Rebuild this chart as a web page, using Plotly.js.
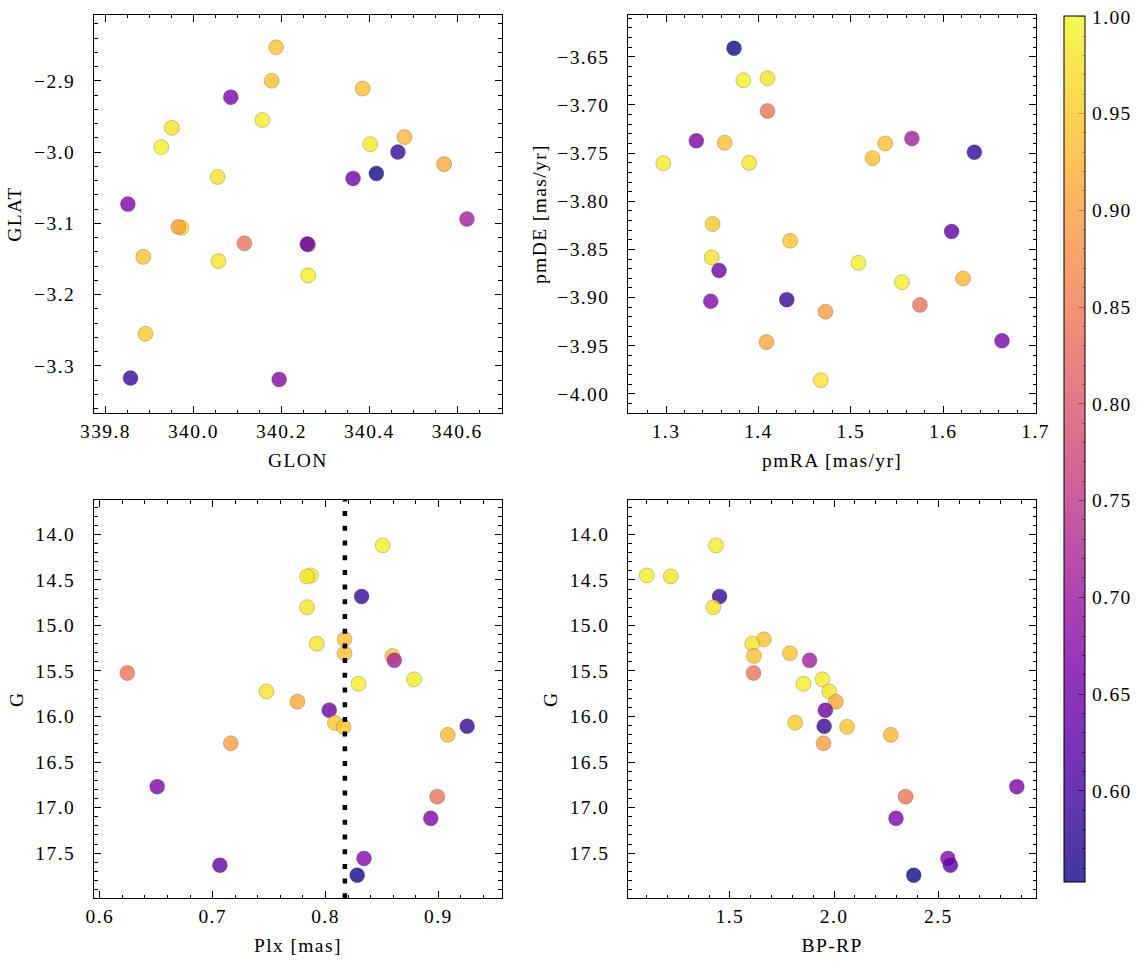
<!DOCTYPE html>
<html>
<head>
<meta charset="utf-8">
<script src="https://cdn.plot.ly/plotly-3.0.1.min.js"></script>
<style>html,body{margin:0;padding:0;background:#fff}#chart{width:1144px;height:965px}#chart svg text{letter-spacing:1.4px}</style>
</head>
<body>
<div id="chart"></div>
<script>
// One entry per star (same order in every array)
const plx   = [0.8507,0.7870,0.7837,0.8320,0.7837,0.8169,0.7923,0.8169,0.8593,0.8610,0.6243,0.8785,0.8293,0.7476,0.7751,0.8033,0.8083,0.8160,0.9256,0.9084,0.7161,0.6508,0.8990,0.8933,0.8341,0.7064,0.8281];
const gmag  = [14.121,14.451,14.462,14.682,14.800,15.152,15.200,15.306,15.335,15.383,15.522,15.592,15.640,15.724,15.838,15.930,16.069,16.113,16.106,16.201,16.293,16.770,16.880,17.118,17.558,17.632,17.742];
const bprp  = [1.433,1.101,1.216,1.450,1.420,1.663,1.607,1.788,1.615,1.882,1.613,1.944,1.853,1.976,2.008,1.958,1.813,2.062,1.952,2.272,1.949,2.877,2.343,2.297,2.546,2.558,2.382];
const glon  = [340.157,339.927,339.951,339.857,340.055,340.188,340.057,340.178,339.886,340.622,340.116,340.261,340.402,339.973,340.570,340.363,339.891,340.385,340.465,340.480,339.966,339.851,340.261,340.085,340.195,340.259,340.416];
const glat  = [-2.955,-2.993,-2.966,-3.317,-3.035,-2.853,-3.153,-2.900,-3.147,-3.094,-3.128,-3.173,-2.989,-3.106,-3.017,-3.037,-3.255,-2.911,-3.000,-2.979,-3.105,-3.073,-3.130,-2.923,-3.319,-3.129,-3.030];
const pmra  = [1.3837,1.2971,1.4098,1.4307,1.3899,1.3635,1.3494,1.5235,1.5372,1.5661,1.4098,1.5083,1.5553,1.4675,1.4087,1.3574,1.3505,1.4343,1.6337,1.6214,1.4726,1.3328,1.5748,1.6636,1.3484,1.6091,1.3736];
const pmde  = [-3.6743,-3.7604,-3.6722,-3.9021,-3.7601,-3.7392,-3.8583,-3.7552,-3.7399,-3.7347,-3.7063,-3.8639,-3.8840,-3.9858,-3.9462,-3.8719,-3.8236,-3.8410,-3.7490,-3.8802,-3.9146,-3.7372,-3.9076,-3.9448,-3.9038,-3.8313,-3.6410];
const prob  = [0.99,0.99,0.98,0.585,0.98,0.94,0.98,0.94,0.94,0.71,0.84,0.99,0.99,0.98,0.91,0.645,0.95,0.94,0.585,0.93,0.90,0.66,0.84,0.66,0.67,0.63,0.555];
const plxMean = 0.8172;

const colorMin = 0.5531, colorMax = 1.0006;
const plasmaHex = ['#0d0887','#2a0593','#41049d','#5601a4','#6a00a8','#7e03a8','#8f0da4','#a11b9b','#b12a90','#bf3984','#cc4778','#d8576b','#e16462','#eb7655','#f2844b','#f89540','#fca636','#feba2c','#fcce25','#f7e225','#f0f921'];
const alpha = 0.8;
const plasma = plasmaHex.map((h,i)=>{
  const r=parseInt(h.slice(1,3),16),g=parseInt(h.slice(3,5),16),b=parseInt(h.slice(5,7),16);
  return [i/(plasmaHex.length-1), `rgba(${r},${g},${b},${alpha})`];
});

const FONT = "'Liberation Serif', serif";
const FS = 19.5;
function mk(x,y,xa,ya,showbar){
  return {
    type:'scatter', mode:'markers', x:x, y:y, xaxis:xa, yaxis:ya, hoverinfo:'skip',
    marker:{size:15, color:prob, colorscale:plasma, cmin:colorMin, cmax:colorMax,
      line:{color:'rgba(60,60,60,0.45)', width:0.6},
      showscale:showbar,
      colorbar: showbar ? {x:1064/1144, xanchor:'left', xpad:0, ypad:0,
        y:1-15.6/965, yanchor:'top', len:866, lenmode:'pixels',
        thickness:21, thicknessmode:'pixels', outlinewidth:1, outlinecolor:'black',
        showticklabels:false, ticks:''} : undefined}
  };
}
const traces = [
  mk(glon,glat,'x','y',true),
  mk(pmra,pmde,'x2','y2',false),
  mk(plx,gmag,'x3','y3',false),
  mk(bprp,gmag,'x4','y4',false),
  {type:'scatter', mode:'markers', x:[0.5], y:[0.3], xaxis:'x5', yaxis:'y5', marker:{opacity:0}, hoverinfo:'skip'}
];

function ax(o, isY){
  return Object.assign({
    showline:true, linecolor:'black', linewidth:1, mirror:'allticks',
    ticks:'inside', ticklen:7, tickwidth:1, tickcolor:'black',
    showgrid:false, zeroline:false, automargin:false,
    ticklabelstandoff: isY ? 14 : 0,
    tickfont:{family:FONT, size:FS, color:'black'},
  }, o);
}
const tf = {family:FONT, size:FS, color:'black'};
const X1=[94/1144, 501.7/1144], X2=[628.3/1144, 1036/1144];
const YT=[1-413.3/965, 1-14.7/965], YB=[1-898.3/965, 1-500/965];
const mn = d => ({dtick:d, ticks:'inside', ticklen:3.5, tickcolor:'black', tickwidth:1});

const layout = {
  width:1144, height:965, margin:{l:0,r:0,t:0,b:0,pad:0},
  paper_bgcolor:'white', plot_bgcolor:'white', showlegend:false,
  font:{family:FONT, color:'black'},
  xaxis: ax({domain:X1, anchor:'y', range:[339.774,340.701], dtick:0.2, tick0:339.8, tickformat:'.1f',
    minor:mn(0.05), title:{text:'GLON', font:tf, standoff:12}}),
  yaxis: ax({domain:YT, anchor:'x', range:[-3.3665,-2.8073], dtick:0.1, tick0:0, tickformat:'.1f',
    minor:mn(0.02), title:{text:'GLAT', font:tf, standoff:12}}, true),
  xaxis2: ax({domain:X2, anchor:'y2', range:[1.2592,1.7004], dtick:0.1, tick0:0, tickformat:'.1f',
    minor:mn(0.02), title:{text:'pmRA [mas/yr]', font:tf, standoff:12}}),
  yaxis2: ax({domain:YT, anchor:'x2', range:[-4.0201,-3.6063], dtick:0.05, tick0:0, tickformat:'.2f',
    minor:mn(0.01), title:{text:'pmDE [mas/yr]', font:tf, standoff:12}}, true),
  xaxis3: ax({domain:X1, anchor:'y3', range:[0.5948,0.9562], dtick:0.1, tick0:0, tickformat:'.1f',
    minor:mn(0.02), title:{text:'Plx [mas]', font:tf, standoff:12}}),
  yaxis3: ax({domain:YB, anchor:'x3', range:[17.996,13.6225], dtick:0.5, tick0:0, tickformat:'.1f',
    minor:mn(0.1), title:{text:'G', font:tf, standoff:12}}, true),
  xaxis4: ax({domain:X2, anchor:'y4', range:[1.012,2.969], dtick:0.5, tick0:0, tickformat:'.1f',
    minor:mn(0.1), title:{text:'BP-RP', font:tf, standoff:12}}),
  yaxis4: ax({domain:YB, anchor:'x4', range:[17.996,13.6225], dtick:0.5, tick0:0, tickformat:'.1f',
    minor:mn(0.1), title:{text:'G', font:tf, standoff:12}}, true),
  xaxis5: {domain:[1064/1144, 1085/1144], anchor:'y5', range:[0,1], visible:false, fixedrange:true},
  yaxis5: {domain:[1-881.6/965, 1-15.6/965], anchor:'x5', side:'right', range:[colorMin,colorMax],
    dtick:0.05, tick0:0, tickformat:'.2f', ticks:'inside', ticklen:7, tickcolor:'black', tickwidth:1,
    minor:mn(0.01), ticklabelstandoff:6,
    showline:false, showgrid:false, zeroline:false, automargin:false,
    tickfont:{family:FONT, size:FS, color:'black'}},
  shapes:[{type:'line', xref:'x3', yref:'y3 domain', x0:plxMean, x1:plxMean, y0:0, y1:1,
    line:{color:'black', width:4.5, dash:'5px,9.7px'}, layer:'above'}]
};
Plotly.newPlot('chart', traces, layout, {staticPlot:true, displayModeBar:false});
</script>
</body>
</html>
